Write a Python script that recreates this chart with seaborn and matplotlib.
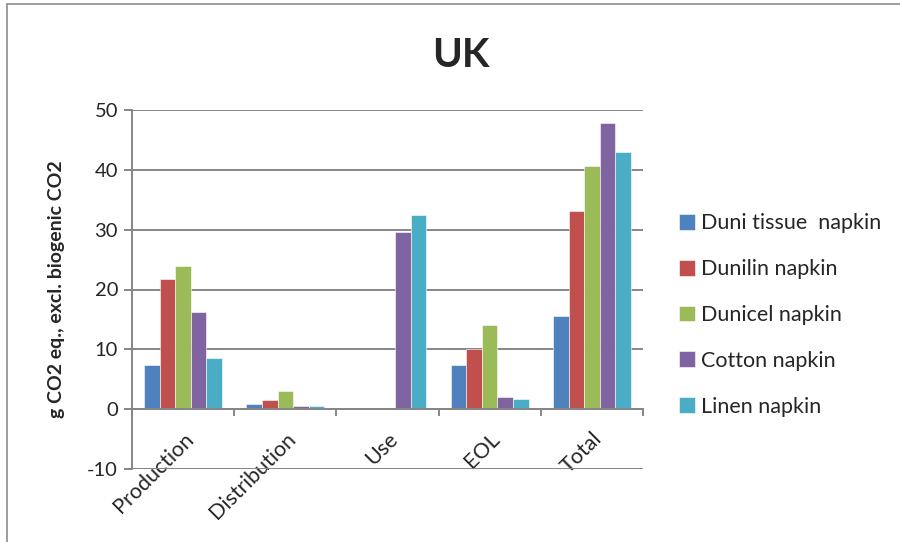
import matplotlib
matplotlib.use("Agg")
import matplotlib.pyplot as plt
import seaborn as sns
import pandas as pd
from matplotlib.patches import Rectangle

categories = ["Production", "Distribution", "Use", "EOL", "Total"]
series_names = ["Duni tissue  napkin", "Dunilin napkin", "Dunicel napkin", "Cotton napkin", "Linen napkin"]
duni_tissue = [7.4, 0.8, 0.0, 7.4, 15.5]
dunilin = [21.8, 1.45, 0.0, 10.0, 33.2]
dunicel = [24.0, 3.0, 0.0, 14.0, 40.7]
cotton = [16.2, 0.5, 29.6, 2.1, 47.9]
linen = [8.6, 0.5, 32.5, 1.7, 42.9]
colors = ["#4F81BD", "#C0504D", "#9BBB59", "#8064A2", "#4BACC6"]
yticks = [-10, 0, 10, 20, 30, 40, 50]

rows = []
for name, vals in zip(series_names, [duni_tissue, dunilin, dunicel, cotton, linen]):
    for c, v in zip(categories, vals):
        rows.append({"stage": c, "product": name, "value": v})
df = pd.DataFrame(rows)

sns.set_style("white")
plt.rcParams["font.family"] = ["Lato", "DejaVu Sans"]

fig = plt.figure(figsize=(9, 5.42), dpi=100)
ax = fig.add_axes([132/900, 1-469/542, (643-132)/900, (469-110)/542])

sns.barplot(data=df, x="stage", y="value", hue="product", order=categories,
            hue_order=series_names, palette=colors, width=0.76, gap=0,
            edgecolor="white", linewidth=0.4, saturation=1, ax=ax, legend=True)

ax.set_ylim(-10, 50)
ax.set_xlim(-0.5, 4.5)
ax.set_yticks(yticks)
ax.set_yticklabels([str(t) for t in yticks], fontsize=14.5)
ax.yaxis.grid(True, color="#868686", linewidth=1.4)
ax.set_axisbelow(True)

for s in ["top", "right"]:
    ax.spines[s].set_visible(False)
ax.spines["left"].set_color("#868686")
ax.spines["left"].set_linewidth(1.4)
ax.spines["bottom"].set_position(("data", 0))
ax.spines["bottom"].set_color("#868686")
ax.spines["bottom"].set_linewidth(1.4)

ax.tick_params(axis="y", left=True, length=6, width=1.4, color="#868686", pad=4)
ax.set_xticks(range(len(categories)))
ax.set_xticklabels(categories, rotation=45, ha="right", rotation_mode="anchor", fontsize=15.5)
ax.set_xticks([i - 0.5 for i in range(len(categories) + 1)], minor=True)
ax.tick_params(axis="x", which="major", length=0, pad=14)
ax.tick_params(axis="x", which="minor", bottom=True, length=5, width=1.4, color="#868686")
ax.set_xlabel("")
ax.set_ylabel("g CO2 eq., excl. biogenic CO2", fontsize=14, fontweight="bold", labelpad=16)

fig.text(461/900, 1-67/542, "UK", fontsize=29, fontweight="bold", ha="center", va="baseline")

ax.legend(loc="center left", bbox_to_anchor=(668/900, 1-315/542), bbox_transform=fig.transFigure,
          frameon=False, fontsize=15.5, handlelength=0.75, handleheight=0.75, labelspacing=1.2,
          handletextpad=0.3, borderpad=0)

fig.patches.append(Rectangle((7/900, -0.1), 1.1, 1 - 4/542 + 0.1, transform=fig.transFigure,
                             fill=False, edgecolor="#8c8c8c", linewidth=1.2))

fig.savefig("out.png", dpi=100)
